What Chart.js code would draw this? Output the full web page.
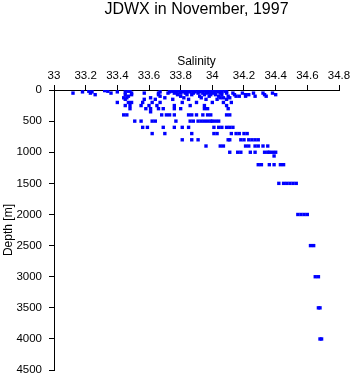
<!DOCTYPE html>
<html>
<head>
<meta charset="utf-8">
<script src="https://cdn.jsdelivr.net/npm/chart.js@4.4.1/dist/chart.umd.min.js"></script>
<style>
  html, body { margin: 0; padding: 0; background: #fff; }
  #wrap { width: 353px; height: 384px; }
</style>
</head>
<body>
<div id="wrap"><canvas id="chart" width="353" height="384"></canvas></div>
<script>
// depth levels [m] and the salinity values read at each level
const depths = [0, 10, 20, 30, 50, 75, 100, 125, 150, 200, 250, 300, 350, 400, 500, 600, 700, 800, 900, 1000, 1060, 1200, 1500, 2000, 2500, 3000, 3500, 4000];
const salinity = [
  [33.76, 33.82, 33.92, 33.97, 34.02, 34.06],
  [33.32, 33.48, 33.73, 33.77, 33.80, 33.83, 33.86, 33.89, 33.92, 33.95, 33.98, 34.00, 34.03, 34.05],
  [33.22, 33.34, 33.47, 33.75, 33.78, 33.81, 33.85, 33.88, 33.91, 33.94, 33.97, 34.00, 34.02, 34.05, 34.08],
  [33.18, 33.24, 33.40, 33.45, 33.67, 33.73, 33.77, 33.81, 33.84, 33.86, 33.89, 33.92, 33.96, 33.99, 34.01, 34.04, 34.06, 34.09],
  [33.12, 33.23, 33.36, 33.49, 33.57, 33.66, 33.72, 33.76, 33.80, 33.83, 33.88, 33.91, 33.94, 33.97, 34.00, 34.05, 34.09, 34.13, 34.19, 34.26, 34.32, 34.38],
  [33.26, 33.45, 33.49, 33.66, 33.78, 33.84, 33.87, 33.95, 33.99, 34.02, 34.06, 34.14, 34.21, 34.23, 34.33, 34.40],
  [33.47, 33.67, 33.80, 33.92, 33.98, 34.04, 34.10, 34.15, 34.17, 34.21, 34.27, 34.34],
  [33.44, 33.46, 33.61, 33.70, 33.82, 33.93, 34.05, 34.07, 34.11],
  [33.45, 33.57, 33.64, 33.75, 33.85, 33.96, 34.03, 34.09],
  [33.40, 33.47, 33.49, 33.56, 33.62, 33.67, 33.81, 33.90, 34.00, 34.07, 34.12],
  [33.45, 33.48, 33.55, 33.60, 33.65, 33.76, 33.86, 33.95, 34.09],
  [33.48, 33.58, 33.61, 33.66, 33.69, 33.76, 33.80, 33.95, 33.97, 34.10],
  [33.61],
  [33.44, 33.46, 33.68, 33.71, 33.73, 33.76, 33.85, 33.87, 33.90, 33.94, 33.97, 33.99, 34.09, 34.11],
  [33.51, 33.55, 33.62, 33.64, 33.77, 33.86, 33.88, 33.91, 33.93, 33.95, 33.97, 33.99, 34.00, 34.02, 34.04],
  [33.56, 33.59, 33.69, 33.76, 33.81, 33.85, 34.01, 34.04, 34.06, 34.09, 34.11, 34.13],
  [33.62, 33.70, 33.87, 34.01, 34.03, 34.12, 34.15, 34.17, 34.20, 34.22],
  [33.81, 33.87, 33.91, 34.10, 34.11, 34.18, 34.20, 34.23, 34.25, 34.27, 34.29],
  [33.96, 34.05, 34.07, 34.21, 34.23, 34.27, 34.29, 34.32, 34.35],
  [34.11, 34.16, 34.18, 34.24, 34.27, 34.33, 34.35, 34.36, 34.38, 34.40],
  [34.39],
  [34.29, 34.31, 34.36, 34.39, 34.43, 34.45],
  [34.42, 34.45, 34.47, 34.49, 34.51, 34.53],
  [34.54, 34.56, 34.58, 34.60],
  [34.62, 34.64],
  [34.65, 34.67],
  [34.67, 34.68],
  [34.68, 34.69]
];

const points = [];
depths.forEach((d, i) => {
  salinity[i].forEach(s => points.push({ x: s, y: d }));
});

const font = 'Liberation Sans, Arial, Helvetica, sans-serif';
const ctx = document.getElementById('chart').getContext('2d');

new Chart(ctx, {
  type: 'scatter',
  data: {
    datasets: [{
      data: points,
      backgroundColor: '#0000ff',
      borderWidth: 0,
      pointStyle: 'rect',
      pointRadius: 2.4,
      pointHoverRadius: 2.4
    }]
  },
  options: {
    responsive: false,
    animation: false,
    layout: { padding: { left: 0, right: 14, top: 0, bottom: 9 } },
    plugins: {
      legend: { display: false },
      tooltip: { enabled: false },
      title: {
        display: true,
        text: 'JDWX in November, 1997',
        color: '#000',
        fullSize: false,
        font: { family: font, size: 16, weight: 'normal', lineHeight: 1 },
        padding: { top: 2, bottom: 6 }
      }
    },
    scales: {
      x: {
        type: 'linear',
        position: 'top',
        min: 33,
        max: 34.8,
        afterFit: (scale) => { scale.height = 66; },
        border: { display: true, color: '#000', width: 1 },
        grid: { drawOnChartArea: false, drawTicks: true, tickLength: 5, color: '#000' },
        ticks: { stepSize: 0.2, color: '#000', padding: 2, maxRotation: 0,
                 font: { family: font, size: 11.5 },
                 callback: (v) => String(Math.round(v * 10) / 10) },
        title: { display: true, text: 'Salinity', color: '#000',
                 font: { family: font, size: 12 }, padding: { top: 30, bottom: 0 } }
      },
      y: {
        type: 'linear',
        reverse: true,
        min: 0,
        max: 4500,
        afterFit: (scale) => { scale.width = 54; },
        border: { display: true, color: '#000', width: 1 },
        grid: { drawOnChartArea: false, drawTicks: true, tickLength: 5, color: '#000' },
        ticks: { stepSize: 500, color: '#000', padding: 7,
                 font: { family: font, size: 11.5 },
                 callback: (v) => String(v) },
        title: { display: true, text: 'Depth [m]', color: '#000',
                 font: { family: font, size: 12 }, padding: { top: 1, bottom: 0 } }
      }
    }
  }
});
</script>
</body>
</html>
